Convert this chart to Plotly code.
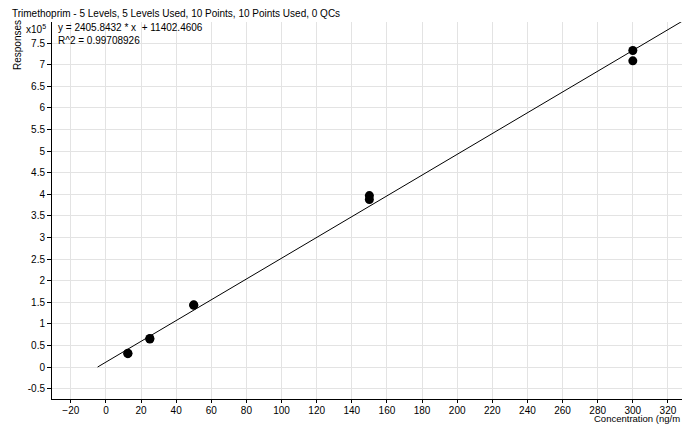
import plotly.graph_objects as go

title = "Trimethoprim - 5 Levels, 5 Levels Used, 10 Points, 10 Points Used, 0 QCs"
conc = [12.5, 12.5, 25, 25, 50, 50, 150, 150, 300, 300]
resp = [0.31, 0.32, 0.65, 0.66, 1.43, 1.44, 3.88, 3.97, 7.09, 7.33]  # x10^5
slope = 2405.8432
intercept = 11402.4606
r2 = 0.99708926
line_x = [-intercept / slope, 330]
line_y = [(slope * x + intercept) / 1e5 for x in line_x]
xticks = list(range(-20, 321, 20))
yticks = [i * 0.5 for i in range(-1, 16)]

font = dict(family="Liberation Sans, Arial", size=10, color="#000")
fig = go.Figure()
fig.add_trace(go.Scatter(x=line_x, y=line_y, mode="lines",
                         line=dict(color="#000", width=1), hoverinfo="skip"))
fig.add_trace(go.Scatter(x=conc, y=resp, mode="markers",
                         marker=dict(color="#000", size=9)))
fig.update_layout(
    width=682, height=425, showlegend=False,
    margin=dict(l=52, r=0, t=22, b=26, autoexpand=False),
    plot_bgcolor="white", paper_bgcolor="white", font=font,
    xaxis=dict(range=[-30.7, 328], tickvals=xticks, showgrid=True,
               gridcolor="#e3e3e3", showline=True, linecolor="#000",
               ticks="outside", ticklen=3, tickcolor="#000", zeroline=False,
               automargin=False, ticklabelstandoff=-1),
    yaxis=dict(range=[-0.74, 7.99], tickvals=yticks,
               ticktext=[("%g" % v) for v in yticks], showgrid=True,
               gridcolor="#e3e3e3", showline=True, linecolor="#000",
               ticks="outside", ticklen=4, tickcolor="#000", zeroline=False,
               automargin=False),
    annotations=[
        dict(text=title, x=0, y=1.0, xref="paper", yref="paper",
             xanchor="left", yanchor="bottom", showarrow=False, font=font,
             xshift=-42, yshift=1),
        dict(text="y = %.4f * x  + %.4f<br>R^2 = %.8f" % (slope, intercept, r2),
             x=0, y=1, xref="paper", yref="paper", xanchor="left", yanchor="top",
             align="left", showarrow=False, font=font, xshift=4, yshift=2),
        dict(text="x10<sup>5</sup>", x=0, y=1, xref="paper", yref="paper",
             xanchor="right", yanchor="top", showarrow=False, font=font,
             xshift=-4, yshift=1),
        dict(text="Responses", x=0, y=1, xref="paper", yref="paper",
             xanchor="center", yanchor="top", textangle=-90, showarrow=False,
             font=font, xshift=-35, yshift=4),
        dict(text="Concentration (ng/m", x=1, y=0, xref="paper", yref="paper",
             xanchor="right", yanchor="bottom", showarrow=False,
             font=dict(family="Liberation Sans, Arial", size=9.5, color="#000"),
             xshift=0, yshift=-27),
    ],
)
fig.write_html("out.html", config={"displayModeBar": False},
               post_script="document.body.style.margin='0';")
